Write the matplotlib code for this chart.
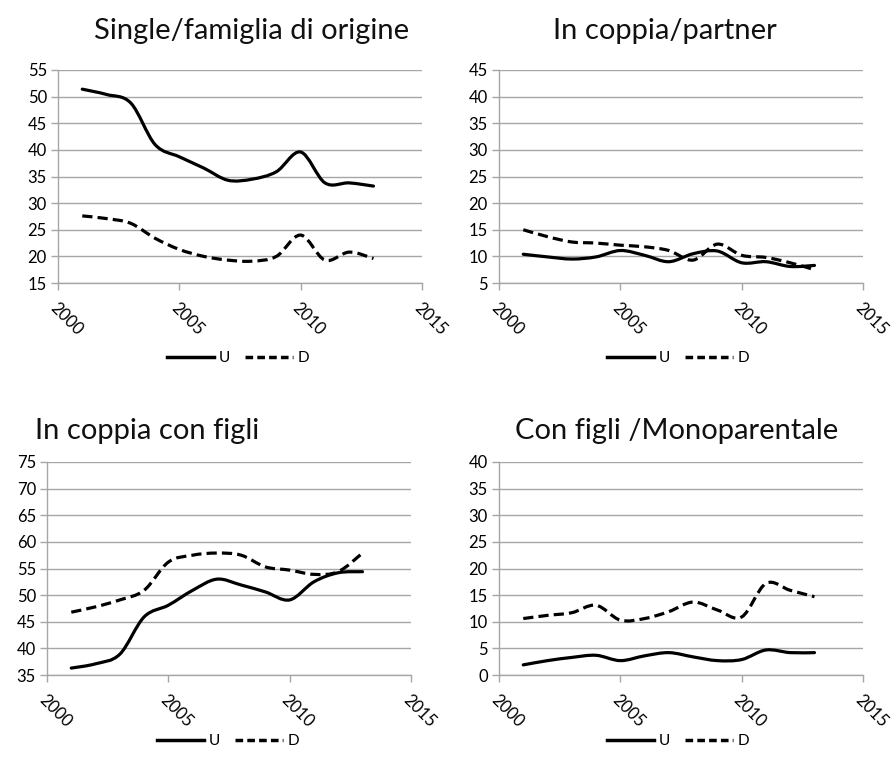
import matplotlib
matplotlib.use("Agg")
import matplotlib.pyplot as plt
from matplotlib.path import Path
from matplotlib.patches import PathPatch
from matplotlib.lines import Line2D

plt.rcParams['font.family'] = ['Lato', 'DejaVu Sans']

years = [2001, 2002, 2003, 2004, 2005, 2006, 2007, 2008, 2009, 2010, 2011, 2012, 2013]

# Single/famiglia di origine
single_u = [51.4, 50.4, 48.8, 41.0, 38.7, 36.6, 34.3, 34.5, 35.9, 39.6, 33.8, 33.8, 33.2]
single_d = [27.6, 27.1, 26.2, 23.4, 21.3, 20.0, 19.3, 19.1, 20.0, 24.0, 19.3, 20.8, 19.6]

# In coppia/partner
coppia_u = [10.4, 9.9, 9.5, 9.9, 11.1, 10.2, 9.0, 10.5, 11.0, 8.8, 9.0, 8.1, 8.3]
coppia_d = [15.0, 13.7, 12.7, 12.5, 12.1, 11.8, 11.1, 9.3, 12.3, 10.2, 9.8, 8.8, 7.5]

# In coppia con figli
figli_u = [36.3, 37.1, 38.9, 45.9, 48.1, 50.9, 53.0, 51.9, 50.6, 49.1, 52.5, 54.2, 54.4]
figli_d = [46.8, 47.8, 49.1, 50.9, 56.2, 57.5, 57.9, 57.5, 55.3, 54.7, 53.9, 54.4, 57.9]

# Con figli /Monoparentale
mono_u = [1.9, 2.7, 3.3, 3.7, 2.7, 3.6, 4.2, 3.4, 2.7, 2.9, 4.7, 4.2, 4.2]
mono_d = [10.6, 11.2, 11.7, 13.1, 10.3, 10.6, 11.9, 13.7, 12.2, 10.9, 17.2, 15.9, 14.7]

titles = ["Single/famiglia di origine", "In coppia/partner",
          "In coppia con figli", "Con figli /Monoparentale"]
series = [(single_u, single_d), (coppia_u, coppia_d),
          (figli_u, figli_d), (mono_u, mono_d)]
ylims = [(15, 55), (5, 45), (35, 75), (0, 40)]
xticks = [2000, 2005, 2010, 2015]


def smooth_path(xs, ys):
    # Catmull-Rom style cubic Bezier through every data point (like Excel "smoothed line")
    n = len(xs)
    pts = list(zip(xs, ys))
    verts = [pts[0]]
    codes = [Path.MOVETO]
    for i in range(n - 1):
        p0 = pts[max(i - 1, 0)]
        p1 = pts[i]
        p2 = pts[i + 1]
        p3 = pts[min(i + 2, n - 1)]
        c1 = (p1[0] + (p2[0] - p0[0]) / 6, p1[1] + (p2[1] - p0[1]) / 6)
        c2 = (p2[0] - (p3[0] - p1[0]) / 6, p2[1] - (p3[1] - p1[1]) / 6)
        verts += [c1, c2, p2]
        codes += [Path.CURVE4] * 3
    return Path(verts, codes)


fig = plt.figure(figsize=(8.94, 7.58), dpi=100)
W, H = 894, 758
boxes = [(58, 70), (499, 70), (47, 462), (499, 462)]
title_pos = [(252, 31), (665, 31), (147, 431), (677, 431)]
legend_y = [358, 358, 741, 741]
legend_x = [238, 678, 228, 678]

grid_col = '#a6a6a6'
dash = (0, (3.2, 1.6))
for k in range(4):
    x0, y0 = boxes[k]
    ax = fig.add_axes([x0 / W, 1 - (y0 + 213) / H, 364 / W, 213 / H])
    u, d = series[k]
    ax.add_patch(PathPatch(smooth_path(years, u), fill=False, lw=2.3,
                           edgecolor='black', capstyle='round'))
    ax.add_patch(PathPatch(smooth_path(years, d), fill=False, lw=2.3,
                           edgecolor='black', linestyle=dash))
    ax.set_xlim(2000, 2015)
    ax.set_ylim(*ylims[k])
    ax.set_xticks(xticks)
    ax.set_yticks(range(ylims[k][0], ylims[k][1] + 1, 5))
    ax.yaxis.grid(True, color=grid_col, lw=1.0)
    ax.set_axisbelow(True)
    for s in ['top', 'right']:
        ax.spines[s].set_visible(False)
    for s in ['left', 'bottom']:
        ax.spines[s].set_color(grid_col)
        ax.spines[s].set_linewidth(1.0)
    ax.tick_params(axis='both', colors=grid_col, length=5, width=1.0)
    ax.tick_params(axis='y', labelcolor='black', labelsize=12, pad=3)
    ax.tick_params(axis='x', labelcolor='black', labelsize=12, pad=7)
    for lab in ax.get_xticklabels():
        lab.set_rotation(-45)
        lab.set_ha('left')
        lab.set_va('top')
        lab.set_rotation_mode('anchor')

    tx, ty = title_pos[k]
    fig.text(tx / W, 1 - ty / H, titles[k], fontsize=21, color='#111111',
             ha='center', va='center')

    handles = [Line2D([], [], color='black', lw=2.5),
               Line2D([], [], color='black', lw=2.5, linestyle=(0, (2.2, 1.2)))]
    fig.legend(handles, ['U', 'D'], loc='center',
               bbox_to_anchor=(legend_x[k] / W, 1 - legend_y[k] / H),
               ncol=2, frameon=False, fontsize=11, handlelength=3.1,
               handletextpad=0.3, columnspacing=1.0)

fig.savefig('out.png', dpi=100)
